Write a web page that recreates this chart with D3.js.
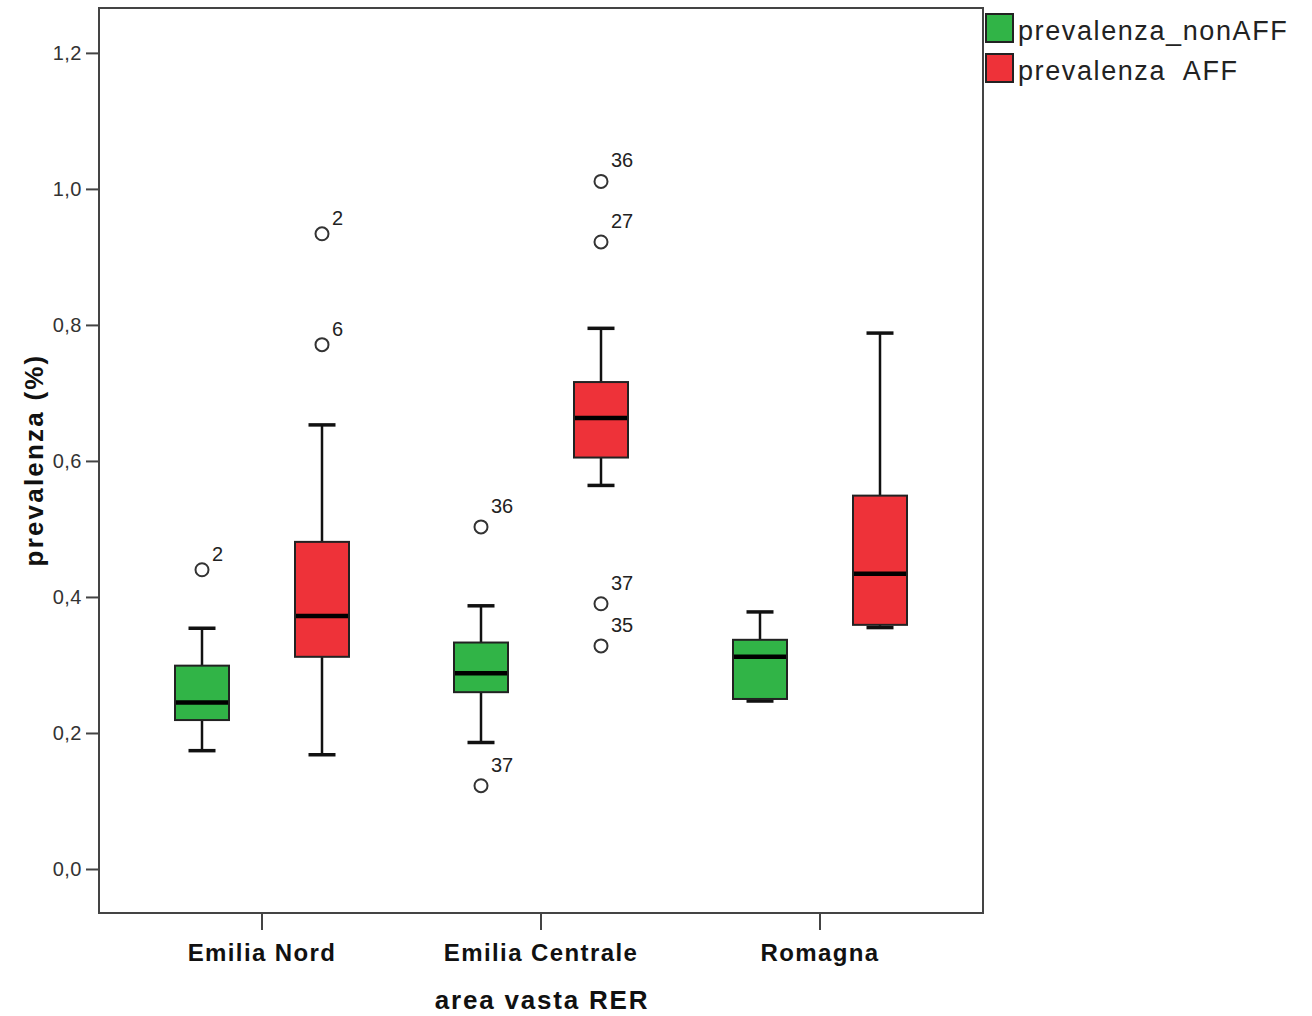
<!DOCTYPE html>
<html>
<head>
<meta charset="utf-8">
<script src="https://cdn.jsdelivr.net/npm/d3@7"></script>
<style>
  body { margin: 0; background: #fff; }
  svg { font-family: "Liberation Sans", Arial, sans-serif; }
</style>
</head>
<body>
<svg id="chart" width="1312" height="1016"></svg>
<script>
// Data: box statistics per area [whiskerLow, q1, median, q3, whiskerHigh]
const areas = ["Emilia Nord", "Emilia Centrale", "Romagna"];
const series = ["prevalenza_nonAFF", "prevalenza_AFF"];
const seriesLabels = ["prevalenza_nonAFF", "prevalenza  AFF"];
const seriesColors = ["#31b447", "#ee3239"];

const nonAffStats = [
    [0.174, 0.219, 0.245, 0.299, 0.354],
    [0.186, 0.260, 0.288, 0.333, 0.387],
    [0.247, 0.250, 0.312, 0.337, 0.378]
];
const affStats = [
    [0.168, 0.312, 0.372, 0.481, 0.653],
    [0.564, 0.605, 0.663, 0.716, 0.795],
    [0.355, 0.359, 0.434, 0.549, 0.788]
];
// outliers [value, case label]
const nonAffOutliers = [
    [[0.440, "2"]],
    [[0.503, "36"], [0.1225, "37"]],
    []
];
const affOutliers = [
    [[0.934, "2"], [0.771, "6"]],
    [[1.011, "36"], [0.922, "27"], [0.390, "37"], [0.328, "35"]],
    []
];
const yTicks = [0, 0.2, 0.4, 0.6, 0.8, 1.0, 1.2];

const svg = d3.select("#chart");
const frame = { left: 99, right: 983, top: 8, bottom: 913 };

const y = d3.scaleLinear()
    .domain([-0.0647, 1.266])
    .range([frame.bottom, frame.top]);

const x = d3.scaleBand()
    .domain(areas)
    .range([122.5, 959.5]);

const xSub = d3.scaleBand()
    .domain(series)
    .range([-120, 120]);

const boxWidth = 54;

// Y axis
const yAxis = svg.append("g")
    .attr("transform", `translate(${frame.left},0)`)
    .call(d3.axisLeft(y)
        .tickValues(yTicks)
        .tickSize(13)
        .tickPadding(4)
        .tickFormat(d => d3.format(".1f")(d).replace(".", ",")));
yAxis.select(".domain").remove();
yAxis.selectAll("line").attr("stroke", "#444").attr("stroke-width", 2);
yAxis.selectAll("text")
    .attr("fill", "#333")
    .style("font-size", "20px")
    .style("letter-spacing", "0.5px")
    .style("font-family", "Liberation Sans, Arial, sans-serif");

// X axis
const xAxis = svg.append("g")
    .attr("transform", `translate(0,${frame.bottom})`)
    .call(d3.axisBottom(x).tickSize(17).tickPadding(6));
xAxis.select(".domain").remove();
xAxis.selectAll("line").attr("stroke", "#444").attr("stroke-width", 2);
xAxis.selectAll("text")
    .attr("fill", "#111")
    .attr("dy", "1.05em")
    .style("font-size", "24px")
    .style("font-weight", "bold")
    .style("letter-spacing", "1.4px")
    .style("font-family", "Liberation Sans, Arial, sans-serif");

// Frame
svg.append("rect")
    .attr("x", frame.left)
    .attr("y", frame.top)
    .attr("width", frame.right - frame.left)
    .attr("height", frame.bottom - frame.top)
    .attr("fill", "none")
    .attr("stroke", "#444")
    .attr("stroke-width", 2);

// Boxes
const boxData = [];
areas.forEach((area, i) => {
    [nonAffStats, affStats].forEach((stats, s) => {
        const outs = [nonAffOutliers, affOutliers][s][i];
        boxData.push({ area, series: series[s], color: seriesColors[s], stats: stats[i], outliers: outs });
    });
});

const boxes = svg.append("g")
    .selectAll("g")
    .data(boxData)
    .enter().append("g")
    .attr("transform", d => `translate(${x(d.area) + x.bandwidth() / 2 + xSub(d.series) + xSub.bandwidth() / 2},0)`);

// whiskers
boxes.append("line")
    .attr("x1", 0).attr("x2", 0)
    .attr("y1", d => y(d.stats[0]))
    .attr("y2", d => y(d.stats[4]))
    .attr("stroke", "#111")
    .attr("stroke-width", 2.5);

boxes.selectAll("line.cap")
    .data(d => [d.stats[0], d.stats[4]])
    .enter().append("line")
    .attr("class", "cap")
    .attr("x1", -boxWidth / 4).attr("x2", boxWidth / 4)
    .attr("y1", v => y(v)).attr("y2", v => y(v))
    .attr("stroke", "#111")
    .attr("stroke-width", 3.5);

boxes.append("rect")
    .attr("x", -boxWidth / 2)
    .attr("width", boxWidth)
    .attr("y", d => y(d.stats[3]))
    .attr("height", d => y(d.stats[1]) - y(d.stats[3]))
    .attr("fill", d => d.color)
    .attr("stroke", "#222")
    .attr("stroke-width", 2);

boxes.append("line")
    .attr("x1", -boxWidth / 2 + 1).attr("x2", boxWidth / 2 - 1)
    .attr("y1", d => y(d.stats[2]))
    .attr("y2", d => y(d.stats[2]))
    .attr("stroke", "#000")
    .attr("stroke-width", 4.5);

// outliers
const outs = boxes.selectAll("g.out")
    .data(d => d.outliers)
    .enter().append("g")
    .attr("class", "out")
    .attr("transform", o => `translate(0,${y(o[0])})`);

outs.append("circle")
    .attr("r", 6.5)
    .attr("fill", "none")
    .attr("stroke", "#333")
    .attr("stroke-width", 2);

outs.append("text")
    .attr("x", 10)
    .attr("y", o => o[1].length > 1 ? -14 : -9)
    .attr("fill", "#222")
    .style("font-size", "20px")
    .text(o => o[1]);

// Axis titles
svg.append("text")
    .attr("transform", "translate(43,460) rotate(-90)")
    .attr("text-anchor", "middle")
    .attr("fill", "#111")
    .style("font-size", "26px")
    .style("font-weight", "bold")
    .style("letter-spacing", "2.2px")
    .text("prevalenza (%)");

svg.append("text")
    .attr("x", 542)
    .attr("y", 1009)
    .attr("text-anchor", "middle")
    .attr("fill", "#111")
    .style("font-size", "26px")
    .style("font-weight", "bold")
    .style("letter-spacing", "1.8px")
    .text("area vasta RER");

// Legend
const legend = svg.append("g")
    .selectAll("g")
    .data(series)
    .enter().append("g")
    .attr("transform", (d, i) => `translate(985,${13 + i * 40})`);

legend.append("rect")
    .attr("x", 1).attr("y", 1)
    .attr("width", 27).attr("height", 28)
    .attr("fill", (d, i) => seriesColors[i])
    .attr("stroke", "#222")
    .attr("stroke-width", 2);

legend.append("text")
    .attr("x", 33)
    .attr("y", 27)
    .attr("fill", "#222")
    .attr("xml:space", "preserve")
    .style("white-space", "pre")
    .style("font-size", "27px")
    .style("letter-spacing", "1.6px")
    .text((d, i) => seriesLabels[i]);
</script>
</body>
</html>
